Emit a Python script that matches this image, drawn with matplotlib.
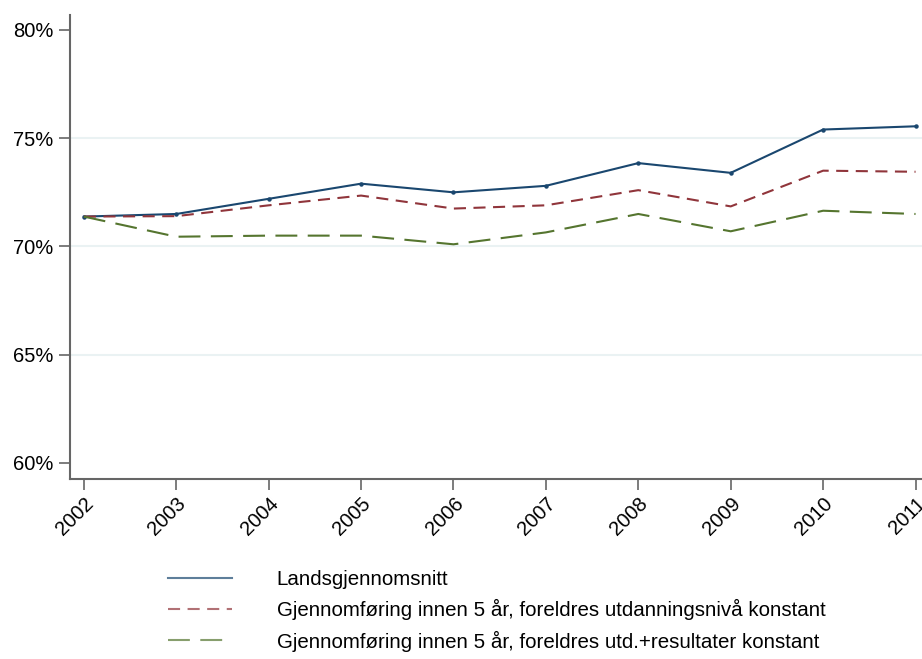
import matplotlib
matplotlib.use('Agg')
import matplotlib.pyplot as plt
from matplotlib.ticker import FuncFormatter

plt.rcParams['font.family'] = ['Liberation Sans', 'DejaVu Sans']

years = [2002, 2003, 2004, 2005, 2006, 2007, 2008, 2009, 2010, 2011]
lands = [71.38, 71.5, 72.2, 72.9, 72.5, 72.8, 73.85, 73.4, 75.4, 75.55]
foreldre_utd = [71.38, 71.4, 71.9, 72.35, 71.75, 71.9, 72.6, 71.85, 73.5, 73.45]
foreldre_res = [71.38, 70.45, 70.5, 70.5, 70.1, 70.65, 71.5, 70.7, 71.65, 71.5]

labels = ['Landsgjennomsnitt',
          'Gjennomføring innen 5 år, foreldres utdanningsnivå konstant',
          'Gjennomføring innen 5 år, foreldres utd.+resultater konstant']
yticks = [60, 65, 70, 75, 80]

fig = plt.figure(figsize=(9.22, 6.59), dpi=100)
ax = fig.add_axes([70/922, 180/659, 852/922, 464/659])

ax.plot(years, lands, color='#1a476f', lw=1.5, label=labels[0])
ax.plot(years, lands, color='#1a476f', ls='none', marker='o', ms=2.2)  # small dots, not in legend
ax.plot(years, foreldre_utd, color='#90353b', lw=1.5, dashes=(5.8, 3.6), label=labels[1])
ax.plot(years, foreldre_res, color='#55752f', lw=1.5, dashes=(10.5, 5.0), label=labels[2])

ax.set_xlim(2001.85, 2011.07)
ax.set_ylim(59.26, 80.69)
ax.set_yticks(yticks)
ax.yaxis.set_major_formatter(FuncFormatter(lambda v, p: '%d%%' % v))
ax.set_xticks(years)
ax.set_xticklabels([str(y) for y in years], rotation=45, ha='right',
                   rotation_mode='anchor')

for g in [65, 70, 75]:
    ax.axhline(g, color='#eaf2f3', lw=1.5, zorder=0)

for s in ['top', 'right']:
    ax.spines[s].set_visible(False)
for s in ['left', 'bottom']:
    ax.spines[s].set_color('#666666')
    ax.spines[s].set_linewidth(1.5)
ax.tick_params(axis='both', colors='#666666', labelcolor='black', labelsize=14.5,
               length=8, width=1.2, direction='out')
ax.tick_params(axis='y', pad=4)
ax.tick_params(axis='x', pad=3)

leg = fig.legend(loc='upper left', bbox_to_anchor=(168/922, 1 - 570/659), frameon=False,
                 fontsize=14.75, handlelength=3.1, handletextpad=2.2, labelspacing=0.5,
                 borderpad=0, borderaxespad=0)
for h in leg.get_lines():
    h.set_alpha(0.7)

fig.savefig('out.png', dpi=100)
